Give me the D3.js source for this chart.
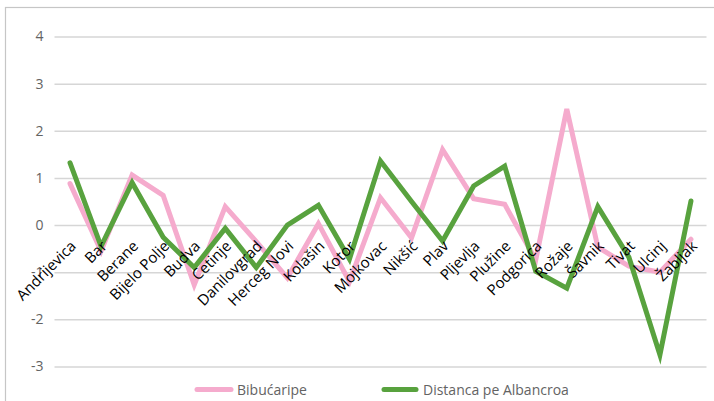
<!DOCTYPE html>
<html><head><meta charset="utf-8">
<script src="https://cdn.jsdelivr.net/npm/d3@7"></script>
<style>html,body{margin:0;padding:0;background:#fff;}svg{display:block;}</style>
</head><body>
<svg id="chart" width="714" height="401"></svg>
<script>
const categories = ["Andrijevica","Bar","Berane","Bijelo Polje","Budva","Cetinje","Danilovgrad","Herceg Novi","Kolašin","Kotor","Mojkovac","Nikšić","Plav","Pljevlja","Plužine","Podgorica","Rožaje","Šavnik","Tivat","Ulcinj","Žabljak"];
const bibucaripe = [0.88,-0.55,1.06,0.63,-1.27,0.39,-0.35,-1.12,0.03,-1.2,0.58,-0.27,1.6,0.56,0.44,-0.74,2.46,-0.47,-0.87,-1.0,-0.3];
const distanca = [1.32,-0.45,0.9,-0.26,-0.9,-0.07,-0.9,0.0,0.42,-0.72,1.36,0.5,-0.34,0.83,1.25,-0.98,-1.34,0.39,-0.68,-2.75,0.51];
const yTicks = [-3,-2,-1,0,1,2,3,4];
const seriesNames = ["Bibućaripe","Distanca pe Albancroa"];
const colors = ["#F5ABCD","#58A23E"];

(function(){
const svg = d3.select("#chart");
const font = "'Open Sans', sans-serif";
const pl = 54.5, pr = 706.5, pt = 36.5, pb = 366.5;

svg.append("rect").attr("x",5.5).attr("y",7.5).attr("width",720).attr("height",420)
  .attr("fill","none").attr("stroke","#c6c6c6").attr("stroke-width",1.2);

const x = d3.scaleBand().domain(categories).range([pl,pr]);
const y = d3.scaleLinear().domain([-3,4]).range([pb,pt]);

const gy = svg.append("g").attr("transform",`translate(${pl},0)`)
  .call(d3.axisLeft(y).tickValues(yTicks).tickSize(-(pr-pl)).tickPadding(11).tickFormat(d=>String(d)));
gy.select(".domain").remove();
gy.selectAll(".tick line").attr("stroke","#d6d6d6").attr("stroke-width",1.5);
gy.selectAll(".tick text").attr("fill","#636363").attr("font-family",font).attr("font-size",14);

const line = d3.line().x((d,i)=>x(categories[i])+x.bandwidth()/2).y(d=>y(d));
[bibucaripe,distanca].forEach((s,k)=>{
  svg.append("path").datum(s).attr("d",line).attr("fill","none")
    .attr("stroke",colors[k]).attr("stroke-width",5).attr("stroke-linejoin","miter").attr("stroke-linecap","round");
});

const gx = svg.append("g").attr("transform",`translate(0,${y(0)})`)
  .call(d3.axisBottom(x).tickSize(0).tickPadding(0));
gx.select(".domain").remove();
gx.selectAll(".tick text")
  .attr("font-family",font).attr("font-size",15).attr("fill","#000")
  .attr("text-anchor","end").attr("dy",0).attr("y",0)
  .attr("transform","translate(7,22) rotate(-45)");

const legend = [{x0:197,x1:231,tx:237},{x0:384,x1:416,tx:423}];
legend.forEach((l,k)=>{
  svg.append("line").attr("x1",l.x0).attr("x2",l.x1).attr("y1",389.5).attr("y2",389.5)
    .attr("stroke",colors[k]).attr("stroke-width",5).attr("stroke-linecap","round");
  svg.append("text").attr("x",l.tx).attr("y",394.5).text(seriesNames[k])
    .attr("font-family",font).attr("font-size",14).attr("fill","#636363");
});
})();
</script>
</body></html>
